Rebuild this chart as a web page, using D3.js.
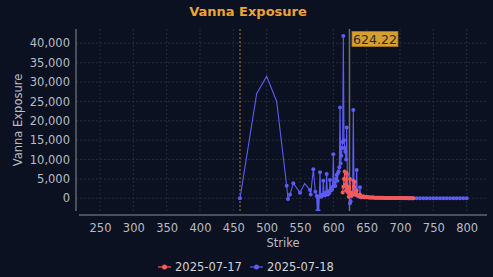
<!DOCTYPE html>
<html>
<head>
    <meta charset="UTF-8">
    <title>Vanna Exposure</title>
    <script src="https://d3js.org/d3.v7.min.js"></script>
    <style>
        body { margin: 0; background: #0b1120; }
        svg { display: block; font-family: "DejaVu Sans", sans-serif; }
    </style>
</head>
<body>
<svg id="svg" width="493" height="277"></svg>

<script>
    // values
    var xTicks = [250, 300, 350, 400, 450, 500, 550, 600, 650, 700, 750, 800];
    var yTicks = [0, 5000, 10000, 15000, 20000, 25000, 30000, 35000, 40000];
    var spotPrice = 624.22;
    var lowStrikeLine = 460;
    var seriesNames = ["2025-07-17", "2025-07-18"];

    // 2025-07-18 expiry, [strike, vanna]
    var vanna0718 = [[460,0],[485,27000],[500,31500],[515,25000],[530,3250],[532,-200],[535,1000],[540,3900],
        [550,1450],[557,3800],[565,2150],[566,1000],[570,7500],[573,1700],[575,600],[576,-3300],[577,200],
        [578,-3300],[579,500],[580,6700],[581,800],[582,400],[583,900],[584,700],[585,4500],[586,900],
        [587,1200],[588,800],[589,1500],[590,6300],[591,1300],[592,1000],[593,1800],[594,1400],[595,4700],
        [596,2000],[597,2500],[598,2200],[599,3000],[600,11400],[601,3500],[602,4000],[603,3200],[604,5000],
        [605,6000],[606,4500],[607,6500],[608,7000],[609,8000],[610,23400],[611,9000],[612,11000],[613,13000],
        [614,14500],[615,41900],[616,15000],[617,13000],[618,12000],[619,10000],[620,18300],[621,6000],
        [622,2500],[623,1500],[624,500],[625,-1300],[626,-800],[627,500],[628,1000],[629,1500],[630,22800],
        [631,2000],[632,1200],[633,900],[634,800],[635,7300],[636,700],[637,600],[638,500],[639,400],
        [640,2850],[641,300],[642.5,280],[645,400],[647.5,250],[650,300],[652.5,200],[655,220],[657.5,180],
        [660,200],[662.5,150],[665,160],[667.5,120],[670,140],[672.5,100],[675,110],[677.5,90],[680,100],
        [682.5,80],[685,90],[687.5,70],[690,80],[692.5,60],[695,70],[697.5,50],[700,60],[702.5,40],[705,50],
        [707.5,40],[710,40],[712.5,30],[715,30],[717.5,20],[720,20],[725,20],[730,15],[735,10],[740,10],
        [745,10],[750,10],[755,5],[760,5],[765,5],[770,5],[775,0],[780,0],[785,0],[790,0],[795,0],[800,0]];
    // strikes of the 07-18 line that have no circle in the picture
    var unmarked0718 = [485, 500, 515, 557];

    // 2025-07-17 expiry, [strike, vanna]
    var vanna0717 = [[614,1500],[615,3000],[616,5000],[617,6900],[618,3500],[619,2000],[620,6450],[621,3000],
        [622,1500],[623,400],[624,2500],[625,5000],[626,1500],[627,800],[628,1200],[629,900],[630,4500],
        [631,3000],[632,4300],[633,1500],[634,1000],[635,2000],[636,900],[637,700],[638,600],[639,500],
        [640,1000],[641,450],[642,400],[643,380],[644,350],[645,500],[646,320],[647,300],[648,280],[649,260],
        [650,350],[652.5,240],[655,230],[657.5,200],[660,210],[662.5,170],[665,170],[667.5,150],[670,150],
        [672.5,130],[675,130],[677.5,110],[680,110],[682.5,100],[685,100],[687.5,90],[690,90],[692.5,80],
        [695,80],[697.5,70],[700,70],[702.5,60],[705,60],[707.5,50],[710,50],[712.5,40],[715,40],[717.5,30],
        [720,30]];
</script>

<script>
    var svg = d3.select("svg");
    var colors = ["#f65a5a", "#5c5cf2"];
    var textColor = "#b9bcc4";

    var plotLeft = 79, plotRight = 487, plotTop = 29, plotBottom = 211;

    var x = d3.scaleLinear().domain([218.5, 830.5]).range([plotLeft, plotRight]);
    var y = d3.scaleLinear().domain([-3277, 43690]).range([plotBottom, plotTop]);

    svg.append("defs").append("clipPath").attr("id", "plotclip")
        .append("rect").attr("x", plotLeft).attr("y", plotTop)
        .attr("width", plotRight - plotLeft).attr("height", plotBottom - plotTop);

    // grid
    svg.append("g").selectAll("line").data(xTicks).enter().append("line")
        .attr("x1", function (d) { return x(d); }).attr("x2", function (d) { return x(d); })
        .attr("y1", plotTop).attr("y2", plotBottom)
        .attr("stroke", "#262c3c").attr("stroke-dasharray", "2,2");
    svg.append("g").selectAll("line").data(yTicks).enter().append("line")
        .attr("x1", 76).attr("x2", plotRight)
        .attr("y1", function (d) { return y(d); }).attr("y2", function (d) { return y(d); })
        .attr("stroke", "#262c3c").attr("stroke-dasharray", "2,2");

    // axes
    var xAxis = svg.append("g").attr("transform", "translate(0,215)")
        .call(d3.axisBottom(x).tickValues(xTicks).tickSize(0).tickPadding(9));
    var yAxis = svg.append("g").attr("transform", "translate(76,0)")
        .call(d3.axisLeft(y).tickValues(yTicks).tickSize(0).tickPadding(6).tickFormat(d3.format(",")));
    [xAxis, yAxis].forEach(function (a) {
        a.select(".domain").remove();
        a.selectAll("text").attr("fill", textColor).style("font-size", "11.5px")
            .style("font-family", "DejaVu Sans, sans-serif");
    });
    svg.append("line").attr("x1", 76).attr("x2", 76).attr("y1", plotTop).attr("y2", plotBottom)
        .attr("stroke", "#8a8e98");
    svg.append("line").attr("x1", plotLeft).attr("x2", plotRight).attr("y1", 215).attr("y2", 215)
        .attr("stroke", "#8a8e98");

    // reference lines
    svg.append("line").attr("x1", x(lowStrikeLine)).attr("x2", x(lowStrikeLine))
        .attr("y1", plotTop).attr("y2", plotBottom)
        .attr("stroke", "#b07a34").attr("stroke-dasharray", "2,2");
    svg.append("line").attr("x1", x(spotPrice)).attr("x2", x(spotPrice))
        .attr("y1", plotTop).attr("y2", plotBottom)
        .attr("stroke", "#6e6e6e").attr("stroke-width", 1.5);

    // series
    var line = d3.line().x(function (d) { return x(d[0]); }).y(function (d) { return y(d[1]); });
    var plot = svg.append("g").attr("clip-path", "url(#plotclip)");

    function drawSeries(data, color, skip) {
        plot.append("path").datum(data).attr("d", line)
            .attr("fill", "none").attr("stroke", color).attr("stroke-width", 1.1);
        plot.append("g").selectAll("circle")
            .data(data.filter(function (d) { return skip.indexOf(d[0]) < 0; }))
            .enter().append("circle")
            .attr("cx", function (d) { return x(d[0]); })
            .attr("cy", function (d) { return y(d[1]); })
            .attr("r", 2).attr("fill", color);
    }
    drawSeries(vanna0718, colors[1], unmarked0718);
    drawSeries(vanna0717, colors[0], []);

    // spot label
    svg.append("rect").attr("x", x(spotPrice) + 2.5).attr("y", 31.5).attr("width", 46).attr("height", 15)
        .attr("fill", "#d6a02e").attr("stroke", "#a87a20").attr("stroke-width", 0.8);
    svg.append("text").attr("x", x(spotPrice) + 25.5).attr("y", 43.5).attr("text-anchor", "middle")
        .attr("fill", "#2a2a2a").style("font-size", "12.5px").text(spotPrice.toFixed(2));

    // titles
    svg.append("text").attr("x", 248).attr("y", 16).attr("text-anchor", "middle")
        .attr("fill", "#eea433").style("font-size", "13px").style("font-weight", "bold")
        .text("Vanna Exposure");
    svg.append("text").attr("x", 283).attr("y", 247).attr("text-anchor", "middle")
        .attr("fill", textColor).style("font-size", "11.5px").text("Strike");
    svg.append("text").attr("transform", "translate(22,120) rotate(-90)").attr("text-anchor", "middle")
        .attr("fill", textColor).style("font-size", "11.5px").text("Vanna Exposure");

    // legend
    var legendX = [158, 250];
    seriesNames.forEach(function (name, i) {
        var g = svg.append("g").attr("transform", "translate(" + legendX[i] + ",267)");
        g.append("line").attr("x1", 0).attr("x2", 13).attr("y1", 0).attr("y2", 0)
            .attr("stroke", colors[i]).attr("stroke-width", 1.2);
        g.append("circle").attr("cx", 6.5).attr("cy", 0).attr("r", 2.5).attr("fill", colors[i]);
        g.append("text").attr("x", 17).attr("y", 4.2).attr("fill", "#d0d2d8")
            .style("font-size", "11.5px").text(name);
    });
</script>
</body>
</html>
